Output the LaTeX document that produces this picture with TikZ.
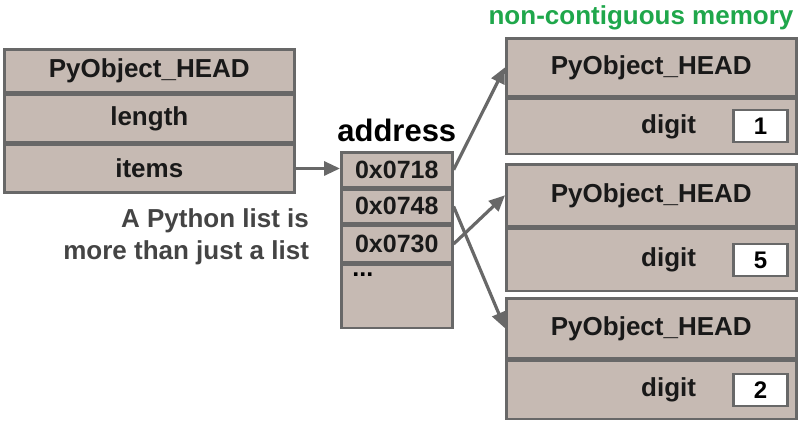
\documentclass[tikz,border=0pt]{standalone}
\usepackage{fontspec}
\setmainfont{Liberation Sans}
\usetikzlibrary{positioning,arrows.meta}
\definecolor{cellfill}{HTML}{C6BAB3}
\definecolor{cellline}{HTML}{686868}
\definecolor{memgreen}{HTML}{1FA74B}
\definecolor{notegray}{HTML}{444444}
\tikzset{
    cell/.style={draw=cellline, line width=1.3pt, fill=cellfill, inner sep=0pt,
        font=\bfseries\fontsize{13}{15}\selectfont, text=black!90},
    wide/.style={cell, minimum width=145pt},
    slot/.style={cell, minimum width=55.5pt, font=\bfseries\fontsize{12.5}{14}\selectfont},
    valbox/.style={draw=cellline, line width=1.1pt, fill=white, minimum width=27pt,
        minimum height=16pt, inner sep=0pt, font=\bfseries\fontsize{12}{14}\selectfont},
    ptr/.style={draw=cellline, line width=1.6pt, -{Triangle[length=8pt,width=7pt]}}
}

\begin{document}
\begin{tikzpicture}[x=0.5pt, y=-0.5pt]
    \useasboundingbox (0,0) rectangle (800,426);

    % the list object
    \node[wide, minimum height=21.5pt, anchor=north west] (lhead) at (3,48) {PyObject\_HEAD};
    \node[wide, minimum height=23.5pt, below=0pt of lhead] (length) {length};
    \node[wide, minimum height=24pt, below=0pt of length] (items) {items};

    % the address array
    \node[slot, minimum height=17.5pt, anchor=north west] (a1) at (340,151) {0x0718};
    \node[slot, minimum height=16.5pt, below=0pt of a1] (a2) {0x0748};
    \node[slot, minimum height=18.5pt, below=0pt of a2] (a3) {0x0730};
    \node[slot, minimum height=31.5pt, below=0pt of a3] (a4) {};
    \node[font=\bfseries\fontsize{12.5}{14}\selectfont, inner sep=0pt, anchor=base west] (dots) at (352,277) {...};
    \node[font=\bfseries\fontsize{15.5}{18}\selectfont, above=1pt of a1] (addr) {address};

    % the int objects
    \node[wide, minimum height=29pt, anchor=north west] (h1) at (505,37) {PyObject\_HEAD};
    \node[wide, minimum height=27.5pt, below=0pt of h1] (d1) {};
    \node[wide, minimum height=31pt, anchor=north west] (h2) at (505,163) {PyObject\_HEAD};
    \node[wide, minimum height=31pt, below=0pt of h2] (d2) {};
    \node[wide, minimum height=30pt, anchor=north west] (h3) at (505,297) {PyObject\_HEAD};
    \node[wide, minimum height=29pt, below=0pt of h3] (d3) {};

    \node[valbox, left=4.5pt of d1.east] (v1) {1};
    \node[valbox, left=4.5pt of d2.east] (v2) {5};
    \node[valbox, left=4.5pt of d3.east] (v3) {2};
    \node[cell, draw=none, fill=none, left=17.5pt of v1] (g1) {digit};
    \node[cell, draw=none, fill=none, left=17.5pt of v2] (g2) {digit};
    \node[cell, draw=none, fill=none, left=17.5pt of v3] (g3) {digit};

    \node[font=\bfseries\fontsize{13}{15}\selectfont, text=memgreen] (mem) at (641,18) {non-contiguous memory};
    \node[font=\bfseries\fontsize{13}{16}\selectfont, text=notegray, align=right,
        anchor=east] (note) at (316,237) {A Python list is\\more than just a list};

    % pointers
    \draw[ptr] (items.east) -- (items.east -| a1.west);
    \draw[ptr] (a1.east) -- (h1.west);
    \draw[ptr] (a2.east) -- (h3.west);
    \draw[ptr] (a3.east) -- (h2.west);
\end{tikzpicture}
\end{document}
